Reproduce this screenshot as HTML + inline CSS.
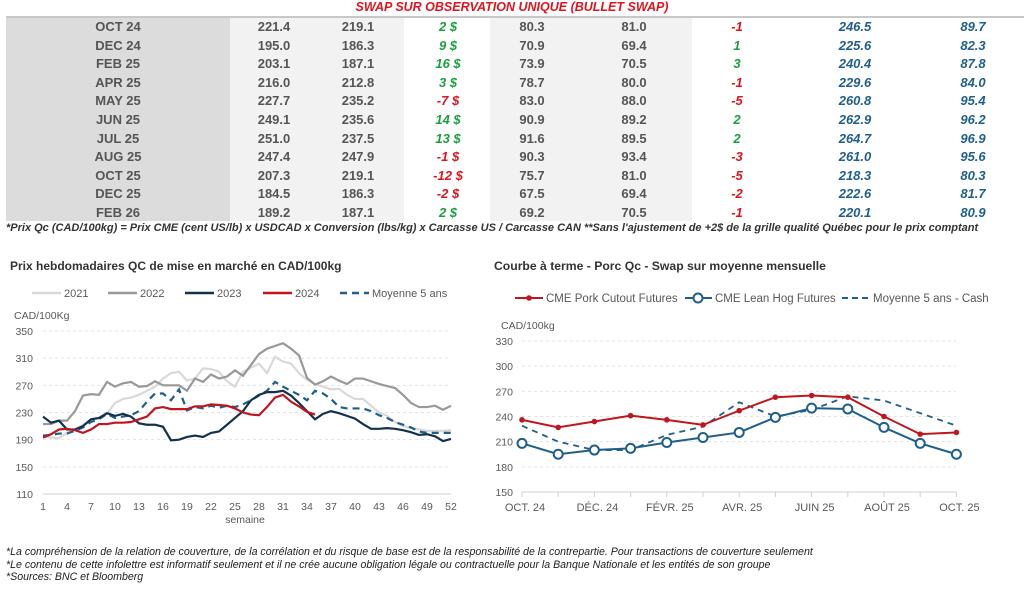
<!DOCTYPE html>
<html><head><meta charset="utf-8"><style>
body{margin:0;width:1024px;height:593px;background:#fff;font-family:"Liberation Sans","DejaVu Sans",sans-serif;position:relative;overflow:hidden}
.a{position:absolute;white-space:nowrap}
.bg{position:absolute}
.t{font-size:13px;font-weight:bold;color:#555}
.g{color:#1aa040;font-style:italic;font-weight:bold}
.r{color:#e0141e;font-style:italic;font-weight:bold}
.b{color:#1f5f8b;font-style:italic;font-weight:bold}
</style></head><body>
<div class="a" style="left:0;width:1024px;top:0;text-align:center;font-size:12.5px;font-weight:bold;font-style:italic;color:#e0141e">SWAP SUR OBSERVATION UNIQUE (BULLET SWAP)</div>
<div class="bg" style="left:6px;top:16px;width:1018px;height:2px;background:#c8c8c8"></div>
<div class="bg" style="left:6px;top:18px;width:224px;height:203px;background:#dcdcdc"></div>
<div class="bg" style="left:230px;top:18px;width:174px;height:203px;background:#f2f2f2"></div>
<div class="bg" style="left:490px;top:18px;width:202px;height:203px;background:#f2f2f2"></div>
<div id="tbl"></div>
<div class="a" style="left:6px;top:222px;font-size:11px;font-style:italic;font-weight:bold;color:#333">*Prix Qc (CAD/100kg) = Prix CME (cent US/lb) x USDCAD x Conversion (lbs/kg) x Carcasse US / Carcasse CAN **Sans l'ajustement de +2$ de la grille qualité Québec pour le prix comptant</div>
<div class="a" style="left:10px;top:259px;font-size:12px;font-weight:bold;color:#333">Prix hebdomadaires QC de mise en marché en CAD/100kg</div>
<div class="a" style="left:494px;top:259px;font-size:12.2px;font-weight:bold;color:#333">Courbe à terme - Porc Qc - Swap sur moyenne mensuelle</div>
<svg class="a" style="left:0;top:0" width="1024" height="593" id="sv" font-family="Liberation Sans, DejaVu Sans, sans-serif" font-size="10.5" fill="#595959"></svg>
<div class="a" style="left:6px;top:546px;font-size:10.6px;font-style:italic;color:#222;line-height:12.5px">*La compréhension de la relation de couverture, de la corrélation et du risque de base est de la responsabilité de la contrepartie. Pour transactions de couverture seulement<br>*Le contenu de cette infolettre est informatif seulement et il ne crée aucune obligation légale ou contractuelle pour la Banque Nationale et les entités de son groupe<br>*Sources: BNC et Bloomberg</div>
<script>
var rows=[["OCT 24","221.4","219.1","2 $","80.3","81.0","-1","246.5","89.7"],["DEC 24","195.0","186.3","9 $","70.9","69.4","1","225.6","82.3"],["FEB 25","203.1","187.1","16 $","73.9","70.5","3","240.4","87.8"],["APR 25","216.0","212.8","3 $","78.7","80.0","-1","229.6","84.0"],["MAY 25","227.7","235.2","-7 $","83.0","88.0","-5","260.8","95.4"],["JUN 25","249.1","235.6","14 $","90.9","89.2","2","262.9","96.2"],["JUL 25","251.0","237.5","13 $","91.6","89.5","2","264.7","96.9"],["AUG 25","247.4","247.9","-1 $","90.3","93.4","-3","261.0","95.6"],["OCT 25","207.3","219.1","-12 $","75.7","81.0","-5","218.3","80.3"],["DEC 25","184.5","186.3","-2 $","67.5","69.4","-2","222.6","81.7"],["FEB 26","189.2","187.1","2 $","69.2","70.5","-1","220.1","80.9"]];
var cx=[118,274,358,448,532,634,737,855,973],h="";
rows.forEach(function(r,i){var y=19+i*18.6;r.forEach(function(v,j){var c="t";if(j==3||j==6)c+=(v[0]=="-"?" r":" g");if(j>=7)c+=" b";h+='<div class="a '+c+'" style="left:'+(cx[j]-40)+'px;width:80px;text-align:center;top:'+y+'px">'+v+'</div>';});});
document.getElementById("tbl").innerHTML=h;
var s="";
function L(x1,y1,x2,y2,st){s+='<line x1="'+x1+'" y1="'+y1+'" x2="'+x2+'" y2="'+y2+'" '+st+'/>';}
function T(x,y,t,a,ex){s+='<text x="'+x+'" y="'+y+'" text-anchor="'+(a||"start")+'" '+(ex||"")+'>'+t+'</text>';}
function ly(v){return 331+(350-v)*163/240;} function lx(w){return 43+(w-1)*8;}
for(var v=110;v<=350;v+=40){if(v>110)L(43,ly(v),451,ly(v),'stroke="#e3e3e3" stroke-dasharray="3,3"');T(33,ly(v)+4,v,"end");}
L(43,ly(110),451,ly(110),'stroke="#d0d0d0"');
for(var w=1;w<=52;w+=3){T(lx(w),510,w,"middle");}
T(245,523,"semaine","middle");T(14,319,"CAD/100Kg");
var d21=[195,193,192,200,205,212,218,222,228,244,250,252,256,262,268,280,288,290,277,280,295,294,290,276,268,290,296,302,288,312,305,302,288,278,272,268,264,265,256,250,250,240,230,225,216,210,207,205,203,203,203,204];
var d22=[213,213,218,218,232,255,257,256,275,268,273,275,268,269,276,270,270,270,262,280,275,286,280,283,292,284,300,316,324,328,332,324,314,281,271,276,283,277,272,280,280,276,272,269,266,256,244,238,238,240,234,240];
var d23=[224,215,218,205,205,210,220,222,229,225,228,224,214,212,212,209,189,190,194,196,194,200,202,212,222,232,248,256,260,260,262,255,244,232,220,228,232,229,225,221,213,206,206,207,206,204,201,197,198,195,188,191];
var d24=[193,198,205,206,204,200,205,213,213,215,215,216,220,224,236,238,235,235,235,239,239,242,241,240,236,230,227,226,238,252,256,246,239,231,227];
var dav=[196,197,199,199,203,208,216,220,228,222,224,226,232,246,258,258,248,264,233,238,236,240,237,240,238,242,248,255,262,275,268,262,256,248,262,258,250,238,236,236,236,232,226,222,216,212,208,202,200,200,200,200];
function pl(d,st){s+='<polyline fill="none" '+st+' points="'+d.map(function(v,i){return lx(i+1)+","+ly(v)}).join(" ")+'"/>';}
pl(d21,'stroke="#d9d9d9" stroke-width="2.2"');pl(d22,'stroke="#999" stroke-width="2.2"');pl(dav,'stroke="#1f5f8b" stroke-width="2.2" stroke-dasharray="7,5"');pl(d23,'stroke="#14304f" stroke-width="2.2"');pl(d24,'stroke="#c0171f" stroke-width="2.2"');
var lg=[[32,"#d9d9d9","2021",""],[108,"#999","2022",""],[185,"#14304f","2023",""],[263,"#c0171f","2024",""],[340,"#1f5f8b","Moyenne 5 ans",'stroke-dasharray="7,5"']];
lg.forEach(function(g){L(g[0],293,g[0]+29,293,'stroke="'+g[1]+'" stroke-width="2.5" '+g[3]);T(g[0]+32,297,g[2],"start",'font-size="11"');});
function ry(v){return 341+(330-v)*151/180;} function rx(i){return 522+i*36.2;}
for(var v=150;v<=330;v+=30){if(v>150)L(522,ry(v),956,ry(v),'stroke="#e3e3e3" stroke-dasharray="3,3"');T(513,ry(v)+4,v,"end");}
L(522,ry(150),956,ry(150),'stroke="#d0d0d0"');
for(var i=0;i<=12;i++)L(rx(i),ry(150),rx(i),ry(150)+5,'stroke="#d0d0d0"');
T(501,329,"CAD/100kg");
["OCT. 24","DÉC. 24","FÉVR. 25","AVR. 25","JUIN 25","AOÛT 25","OCT. 25"].forEach(function(t,k){T(rx(k*2)+3,511,t,"middle",'font-size="11"');});
var cu=[236,227,234,241,236,230,247,263,265,263,240,219,221],lh=[208,195,200,202,209,215,221,239,250,249,227,208,195],av=[229,210,200,200,218,228,257,240,248,264,259,244,229];
function rp(d,st){s+='<polyline fill="none" '+st+' points="'+d.map(function(v,i){return rx(i)+","+ry(v)}).join(" ")+'"/>';}
rp(av,'stroke="#1f5f8b" stroke-width="1.8" stroke-dasharray="6,5"');rp(lh,'stroke="#1f5f8b" stroke-width="2"');rp(cu,'stroke="#c0171f" stroke-width="2"');
lh.forEach(function(v,i){s+='<circle cx="'+rx(i)+'" cy="'+ry(v)+'" r="4.5" fill="#fff" stroke="#1f5f8b" stroke-width="2"/>';});
cu.forEach(function(v,i){s+='<circle cx="'+rx(i)+'" cy="'+ry(v)+'" r="2.8" fill="#c0171f"/>';});
L(515,298,543,298,'stroke="#c0171f" stroke-width="2"');s+='<circle cx="529" cy="298" r="2.8" fill="#c0171f"/>';T(546,302,"CME Pork Cutout Futures","start",'font-size="11.5"');
L(685,298,712,298,'stroke="#1f5f8b" stroke-width="2"');s+='<circle cx="698" cy="298" r="4.5" fill="#fff" stroke="#1f5f8b" stroke-width="2"/>';T(715,302,"CME Lean Hog Futures","start",'font-size="11.5"');
L(842,298,870,298,'stroke="#1f5f8b" stroke-width="2" stroke-dasharray="6,4"');T(873,302,"Moyenne 5 ans - Cash","start",'font-size="11.5"');
document.getElementById("sv").innerHTML=s;
</script>
</body></html>
